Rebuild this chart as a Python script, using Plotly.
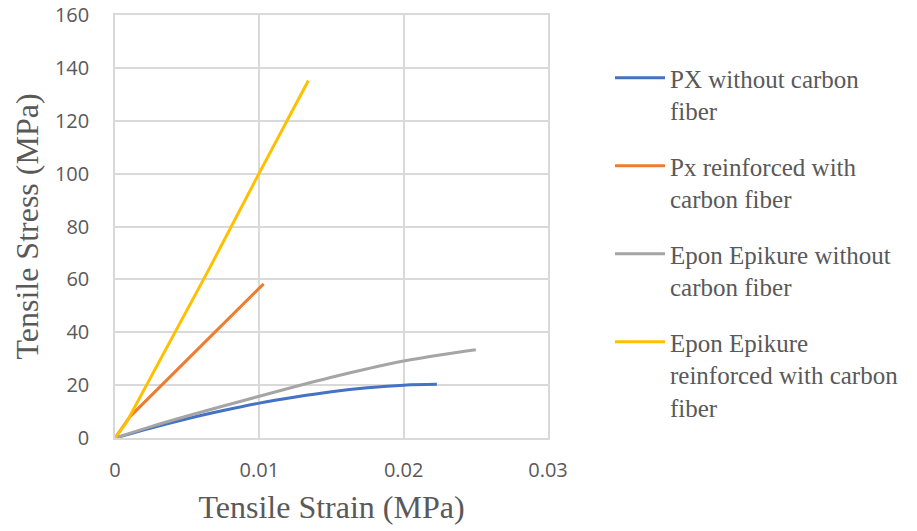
import plotly.graph_objects as go

# Data
px_strain = [0, 0.0025, 0.005, 0.0075, 0.01, 0.0125, 0.015, 0.0175, 0.02, 0.0223]
px_stress = [0, 3.8, 7.3, 10.4, 13.2, 15.5, 17.5, 19.0, 20.0, 20.3]

pxcf_strain = [0, 0.00104, 0.0103]
pxcf_stress = [0, 8.1, 58.3]

epon_strain = [0, 0.0025, 0.005, 0.0075, 0.01, 0.0125, 0.015, 0.0175, 0.02, 0.0225, 0.025]
epon_stress = [0, 4.3, 8.3, 12.1, 15.8, 19.5, 23.0, 26.2, 29.1, 31.4, 33.4]

eponcf_strain = [0, 0.0008, 0.00646, 0.01, 0.0134]
eponcf_stress = [0, 6.0, 63.3, 100.3, 135.2]

names = [
    "PX without carbon<br>fiber",
    "Px reinforced with<br>carbon fiber",
    "Epon Epikure without<br>carbon fiber",
    "Epon Epikure<br>reinforced with carbon<br>fiber",
]
colors = ["#4472C4", "#ED7D31", "#A5A5A5", "#FFC000"]
shapes = ["spline", "linear", "spline", "linear"]
series = [
    (px_strain, px_stress),
    (pxcf_strain, pxcf_stress),
    (epon_strain, epon_stress),
    (eponcf_strain, eponcf_stress),
]

x_ticks = [0, 0.01, 0.02, 0.03]
x_tick_text = ["0", "0.01", "0.02", "0.03"]
y_ticks = [0, 20, 40, 60, 80, 100, 120, 140, 160]

fig = go.Figure()
for i, ((xs, ys), n, c, s) in enumerate(zip(series, names, colors, shapes)):
    fig.add_trace(go.Scatter(
        x=xs, y=ys, mode="lines", name=n, legendgroup=f"g{i}",
        line=dict(color=c, width=3, shape=s),
    ))

grid = "#d9d9d9"
serif = "Liberation Serif, Times New Roman, serif"
fig.update_layout(
    width=917, height=531,
    margin=dict(l=115, r=369, t=15, b=93),
    paper_bgcolor="white", plot_bgcolor="white",
    font=dict(family="Open Sans", color="#595959"),
    legend=dict(
        xref="container", yref="container",
        x=610 / 917, y=1 - 55 / 531, xanchor="left", yanchor="top",
        font=dict(family=serif, size=25, color="#595959"),
        valign="top", tracegroupgap=20, itemwidth=50,
        maxheight=500,
    ),
    xaxis=dict(
        range=[0, 0.03], tickvals=x_ticks, ticktext=x_tick_text,
        showgrid=True, gridcolor=grid, gridwidth=1.5,
        showline=True, linecolor=grid, linewidth=1.5, mirror=True,
        zeroline=False, automargin=False, ticklabeloverflow="allow",
        ticks="outside", ticklen=13, tickcolor="rgba(0,0,0,0)",
        tickfont=dict(family="Open Sans", size=20, color="#595959"),
        title=dict(text="Tensile Strain (MPa)", standoff=14,
                   font=dict(family=serif, size=32, color="#595959")),
    ),
    yaxis=dict(
        range=[0, 160], tickvals=y_ticks,
        showgrid=True, gridcolor=grid, gridwidth=1.5,
        showline=True, linecolor=grid, linewidth=1.5, mirror=True,
        zeroline=False, automargin=False, ticklabeloverflow="allow",
        ticks="outside", ticklen=20, tickcolor="rgba(0,0,0,0)",
        tickfont=dict(family="Open Sans", size=20, color="#595959"),
        title=dict(text="Tensile Stress (MPa)", standoff=7,
                   font=dict(family=serif, size=32, color="#595959")),
    ),
)

fig.write_html("out.html")
